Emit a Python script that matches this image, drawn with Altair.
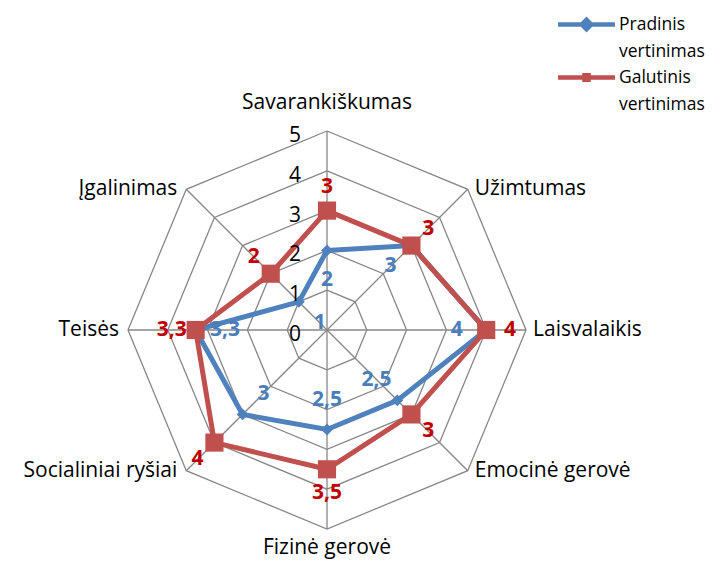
import altair as alt
import pandas as pd

categories = ["Savarankiškumas", "Užimtumas", "Laisvalaikis", "Emocinė gerovė",
              "Fizinė gerovė", "Socialiniai ryšiai", "Teisės", "Įgalinimas"]
pradinis = [2, 3, 4, 2.5, 2.5, 3, 3.3, 1]
galutinis = [3, 3, 4, 3, 3.5, 4, 3.3, 2]
ticks = [0, 1, 2, 3, 4, 5]
series = ["Pradinis vertinimas", "Galutinis vertinimas"]
line_colors = ["#4F81BD", "#C0504D"]
label_colors = ["#4A7EBB", "#C00000"]

FONT = "Open Sans"
N = len(categories)
RMAX = max(ticks)

W, H = 699, 552
PX = 39.8           # pixels per unit
CX, CY = 319, 322   # centre inside the plot area
xs = alt.Scale(domain=[-CX / PX, (W - CX) / PX], nice=False, zero=False)
ys = alt.Scale(domain=[-(H - CY) / PX, CY / PX], nice=False, zero=False)


def fmt(v):
    return ("%g" % v).replace(".", ",")


rows = []
for s, vals in zip(series, [pradinis, galutinis]):
    for k in range(N + 1):
        i = k % N
        rows.append(dict(series=s, order=k, idx=i, cat=categories[i],
                         value=vals[i], label=fmt(vals[i])))
df = pd.DataFrame(rows)

grid_rows = []
for r in ticks[1:]:
    for k in range(N + 1):
        grid_rows.append(dict(ring=r, order=k, idx=k % N, value=r))
gdf = pd.DataFrame(grid_rows)

spoke_df = pd.DataFrame(dict(idx=list(range(N)), value=[RMAX] * N))
cat_df = pd.DataFrame(dict(idx=list(range(N)), cat=categories, value=[RMAX] * N))
tick_df = pd.DataFrame(dict(value=ticks, label=[str(t) for t in ticks]))

ANG = f"PI/2 - datum.idx*2*PI/{N}"


def polar(chart, rexpr="datum.value"):
    return chart.transform_calculate(
        ang=ANG, rr=rexpr,
        x="datum.rr*cos(datum.ang)", y="datum.rr*sin(datum.ang)")


X = alt.X("x:Q", scale=xs, axis=None)
Y = alt.Y("y:Q", scale=ys, axis=None)

grid = polar(alt.Chart(gdf)).mark_line(color="#878787", strokeWidth=1.3).encode(
    x=X, y=Y, detail="ring:N", order="order:Q")

spokes = polar(alt.Chart(spoke_df)).transform_calculate(x0="0", y0="0").mark_rule(
    color="#878787", strokeWidth=1.3).encode(
    x=alt.X("x0:Q", scale=xs, axis=None), y=alt.Y("y0:Q", scale=ys, axis=None),
    x2="x:Q", y2="y:Q")

base = polar(alt.Chart(df))


def only(s, closed=True):
    cond = alt.datum.series == s
    if not closed:
        cond = cond & (alt.datum.order < N)
    return base.transform_filter(cond)


blue_line = only(series[0]).mark_line(strokeWidth=5, color=line_colors[0]).encode(
    x=X, y=Y, order="order:Q")
red_line = only(series[1]).mark_line(strokeWidth=5, color=line_colors[1]).encode(
    x=X, y=Y, order="order:Q")
blue_pts = only(series[0], False).mark_point(
    shape="diamond", filled=True, size=140, opacity=1, color=line_colors[0]).encode(x=X, y=Y)
red_pts = only(series[1], False).mark_point(
    shape="square", filled=True, size=330, opacity=1, color=line_colors[1]).encode(x=X, y=Y)

# legend-only layer: no marks drawn (all rows filtered), legend from the scale domain.
# Symbols are wide paths (x in -3..3) drawn at a small nominal size.
blue_sym = "M-3,-0.24H-0.6L0,-0.84L0.6,-0.24H3V0.24H0.6L0,0.84L-0.6,0.24H-3Z"
red_sym = "M-3,-0.24H-0.45V-0.48H0.45V-0.24H3V0.24H0.45V0.48H-0.45V0.24H-3Z"
legend_layer = base.transform_filter("false").mark_point(
    filled=True, opacity=1, size=361).encode(
    x=X, y=Y,
    color=alt.Color("series:N", scale=alt.Scale(domain=series, range=line_colors), title=None,
                    legend=alt.Legend(orient="none", legendX=568, legendY=6,
                                      symbolSize=361, symbolOpacity=1,
                                      labelFont=FONT, labelFontSize=17.5,
                                      labelColor="black",
                                      labelExpr="split(datum.label, ' ')",
                                      labelOffset=22, rowPadding=7, padding=0,
                                      labelLimit=200)),
    shape=alt.Shape("series:N", scale=alt.Scale(domain=series, range=[blue_sym, red_sym]),
                    title=None))

# value labels
blue_lab = polar(only(series[0], False), "datum.value - 0.74").mark_text(
    font=FONT, fontSize=21, fontWeight="bold", color=label_colors[0],
    align="center", baseline="middle").encode(x=X, y=Y, text="label:N")
red_lab = polar(only(series[1], False), "datum.value + 0.6").mark_text(
    font=FONT, fontSize=21, fontWeight="bold", color=label_colors[1],
    align="center", baseline="middle").encode(x=X, y=Y, text="label:N")

# tick labels on the top spoke
tick_lab = alt.Chart(tick_df).transform_calculate(x0="0").mark_text(
    font=FONT, fontSize=21, color="black", align="right", baseline="middle",
    dx=-26, dy=5).encode(
    x=alt.X("x0:Q", scale=xs, axis=None), y=alt.Y("value:Q", scale=ys, axis=None),
    text="label:N")

cat_base = polar(alt.Chart(cat_df))


def cat_layer(cond, align, dx=0, dy=0):
    return cat_base.transform_filter(cond).mark_text(
        font=FONT, fontSize=21, color="black", align=align, baseline="middle",
        dx=dx, dy=dy).encode(x=X, y=Y, text="cat:N")


half = N // 2
cat_top = cat_layer(alt.datum.idx == 0, "center", dy=-28)
cat_bottom = cat_layer(alt.datum.idx == half, "center", dy=19)
cat_right = cat_layer((alt.datum.idx > 0) & (alt.datum.idx < half), "left", dx=7)
cat_left = cat_layer(alt.datum.idx > half, "right", dx=-9)

chart = alt.layer(
    grid, spokes, blue_line, blue_pts, red_line, red_pts, legend_layer,
    blue_lab, red_lab, tick_lab, cat_top, cat_bottom, cat_right, cat_left
).properties(
    width=W, height=H, autosize=alt.AutoSizeParams(type="none"), padding=0
).configure(style={"guide-label": {"lineHeight": 27}}).configure_view(strokeWidth=0)

chart.save("out.html", embed_options={"renderer": "svg", "actions": False})
